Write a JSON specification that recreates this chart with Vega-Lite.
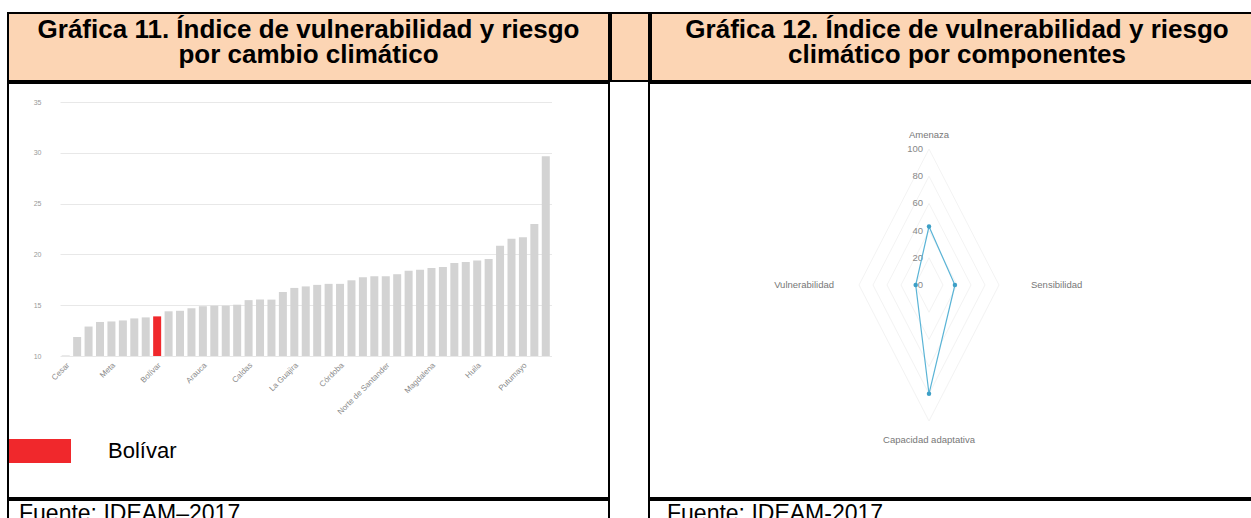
{
  "$schema": "https://vega.github.io/schema/vega-lite/v6.json",
  "padding": {"left": 7, "top": 12, "right": 0, "bottom": 0},
  "background": "white",
  "spacing": 0,
  "config": {
    "view": {"stroke": "black", "strokeWidth": 2},
    "font": "Liberation Sans",
    "concat": {"spacing": 0}
  },
  "datasets": {
    "barras": [
      {"entidad": "Cesar", "indice": 10.05, "grupo": "Otros"},
      {"entidad": "Sucre", "indice": 11.87, "grupo": "Otros"},
      {"entidad": "Atlántico", "indice": 12.9, "grupo": "Otros"},
      {"entidad": "Quindío", "indice": 13.35, "grupo": "Otros"},
      {"entidad": "Meta", "indice": 13.4, "grupo": "Otros"},
      {"entidad": "Risaralda", "indice": 13.5, "grupo": "Otros"},
      {"entidad": "Boyacá", "indice": 13.7, "grupo": "Otros"},
      {"entidad": "Casanare", "indice": 13.8, "grupo": "Otros"},
      {"entidad": "Bolívar", "indice": 13.9, "grupo": "Bolívar"},
      {"entidad": "Santander", "indice": 14.4, "grupo": "Otros"},
      {"entidad": "Tolima", "indice": 14.45, "grupo": "Otros"},
      {"entidad": "Cundinamarca", "indice": 14.7, "grupo": "Otros"},
      {"entidad": "Arauca", "indice": 14.9, "grupo": "Otros"},
      {"entidad": "Antioquia", "indice": 14.95, "grupo": "Otros"},
      {"entidad": "Bogotá D.C.", "indice": 14.95, "grupo": "Otros"},
      {"entidad": "Cauca", "indice": 15.05, "grupo": "Otros"},
      {"entidad": "Caldas", "indice": 15.5, "grupo": "Otros"},
      {"entidad": "Nariño", "indice": 15.55, "grupo": "Otros"},
      {"entidad": "Valle del Cauca", "indice": 15.55, "grupo": "Otros"},
      {"entidad": "Chocó", "indice": 16.3, "grupo": "Otros"},
      {"entidad": "La Guajira", "indice": 16.7, "grupo": "Otros"},
      {"entidad": "Caquetá", "indice": 16.85, "grupo": "Otros"},
      {"entidad": "Guaviare", "indice": 17.0, "grupo": "Otros"},
      {"entidad": "Vichada", "indice": 17.1, "grupo": "Otros"},
      {"entidad": "Córdoba", "indice": 17.1, "grupo": "Otros"},
      {"entidad": "Guainía", "indice": 17.45, "grupo": "Otros"},
      {"entidad": "Vaupés", "indice": 17.75, "grupo": "Otros"},
      {"entidad": "Amazonas", "indice": 17.85, "grupo": "Otros"},
      {"entidad": "Norte de Santander", "indice": 17.85, "grupo": "Otros"},
      {"entidad": "San Andrés", "indice": 18.05, "grupo": "Otros"},
      {"entidad": "Barranquilla", "indice": 18.4, "grupo": "Otros"},
      {"entidad": "Cartagena", "indice": 18.5, "grupo": "Otros"},
      {"entidad": "Magdalena", "indice": 18.65, "grupo": "Otros"},
      {"entidad": "Medellín", "indice": 18.75, "grupo": "Otros"},
      {"entidad": "Cali", "indice": 19.15, "grupo": "Otros"},
      {"entidad": "Bucaramanga", "indice": 19.25, "grupo": "Otros"},
      {"entidad": "Huila", "indice": 19.4, "grupo": "Otros"},
      {"entidad": "Pereira", "indice": 19.55, "grupo": "Otros"},
      {"entidad": "Manizales", "indice": 20.85, "grupo": "Otros"},
      {"entidad": "Ibagué", "indice": 21.55, "grupo": "Otros"},
      {"entidad": "Putumayo", "indice": 21.7, "grupo": "Otros"},
      {"entidad": "Pasto", "indice": 23.0, "grupo": "Otros"},
      {"entidad": "Neiva", "indice": 29.65, "grupo": "Otros"}
    ],
    "componentes": [
      {"componente": "Amenaza", "valor": 43, "orden": 0},
      {"componente": "Sensibilidad", "valor": 37, "orden": 1},
      {"componente": "Capacidad adaptativa", "valor": 80, "orden": 2},
      {"componente": "Vulnerabilidad", "valor": 19, "orden": 3}
    ],
    "escala": [
      {"v": 0}, {"v": 20}, {"v": 40}, {"v": 60}, {"v": 80}, {"v": 100}
    ],
    "rejilla": [
      {"nivel": 20, "orden": 0}, {"nivel": 20, "orden": 1}, {"nivel": 20, "orden": 2}, {"nivel": 20, "orden": 3},
      {"nivel": 40, "orden": 0}, {"nivel": 40, "orden": 1}, {"nivel": 40, "orden": 2}, {"nivel": 40, "orden": 3},
      {"nivel": 60, "orden": 0}, {"nivel": 60, "orden": 1}, {"nivel": 60, "orden": 2}, {"nivel": 60, "orden": 3},
      {"nivel": 80, "orden": 0}, {"nivel": 80, "orden": 1}, {"nivel": 80, "orden": 2}, {"nivel": 80, "orden": 3},
      {"nivel": 100, "orden": 0}, {"nivel": 100, "orden": 1}, {"nivel": 100, "orden": 2}, {"nivel": 100, "orden": 3}
    ]
  },
  "vconcat": [
    {
      "spacing": 0,
      "hconcat": [
        {
          "width": 601, "height": 68,
          "view": {"fill": "#FCD5B4", "stroke": "black", "strokeWidth": 2},
          "data": {"values": [{}]},
          "mark": {"type": "text", "fontWeight": "bold", "fontSize": 26, "lineHeight": 25, "baseline": "alphabetic", "dy": -9, "color": "black"},
          "encoding": {"text": {"value": ["Gráfica 11. Índice de vulnerabilidad y riesgo", "por cambio climático"]}}
        },
        {
          "width": 38, "height": 68,
          "view": {"fill": "#FCD5B4", "stroke": "black", "strokeWidth": 2},
          "data": {"values": [{}]},
          "mark": {"type": "text"},
          "encoding": {"text": {"value": ""}}
        },
        {
          "width": 606, "height": 68,
          "view": {"fill": "#FCD5B4", "stroke": "black", "strokeWidth": 2},
          "data": {"values": [{}]},
          "mark": {"type": "text", "fontWeight": "bold", "fontSize": 26, "lineHeight": 25, "baseline": "alphabetic", "dy": -9, "dx": 3, "color": "black"},
          "encoding": {"text": {"value": ["Gráfica 12. Índice de vulnerabilidad y riesgo", "climático por componentes"]}}
        }
      ]
    },
    {
      "spacing": 0,
      "hconcat": [
        {
          "width": 601, "height": 415,
          "data": {"name": "barras"},
          "mark": {"type": "bar"},
          "encoding": {
            "x": {
              "field": "entidad", "type": "nominal", "sort": null,
              "scale": {"range": [52, 543.5], "paddingInner": 0.3, "paddingOuter": 0.15},
              "axis": {
                "values": ["Cesar", "Meta", "Bolívar", "Arauca", "Caldas", "La Guajira", "Córdoba", "Norte de Santander", "Magdalena", "Huila", "Putumayo"],
                "labelAngle": -45, "offset": -140, "domain": false, "ticks": false, "grid": false,
                "labelFontSize": 8, "labelColor": "#8a8a8a", "labelPadding": 3, "title": null
              }
            },
            "y": {
              "field": "indice", "type": "quantitative",
              "scale": {"domain": [10, 35], "range": [273, 19], "nice": false, "zero": false},
              "axis": {
                "values": [10, 15, 20, 25, 30, 35], "offset": -35, "domain": false, "ticks": false, "tickSize": 0,
                "labelPadding": 2, "labelFontSize": 7, "labelColor": "#999999", "gridColor": "#e8e8e8", "title": null
              }
            },
            "y2": {"datum": 10},
            "color": {
              "field": "grupo", "type": "nominal",
              "scale": {"domain": ["Bolívar", "Otros"], "range": ["#f0282c", "#d3d3d3"]},
              "legend": {
                "values": ["Bolívar"], "orient": "none", "legendX": 1, "legendY": 407, "title": null, "padding": 0,
                "symbolType": "M-1,-0.387H1V0.387H-1Z", "symbolSize": 3844, "symbolStrokeWidth": 0,
                "labelFontSize": 22, "labelColor": "black", "labelOffset": 37, "labelFont": "Liberation Sans"
              }
            }
          }
        },
        {
          "width": 38, "height": 415,
          "data": {"values": [{}]},
          "mark": {"type": "text"},
          "encoding": {"text": {"value": ""}}
        },
        {
          "width": 606, "height": 415,
          "layer": [
            {
              "data": {"name": "rejilla"},
              "transform": [
                {"calculate": "datum.nivel * sin(datum.orden * PI / 2)", "as": "gx"},
                {"calculate": "datum.nivel * cos(datum.orden * PI / 2)", "as": "gy"}
              ],
              "mark": {"type": "line", "interpolate": "linear-closed", "color": "#f3f3f3", "strokeWidth": 1},
              "encoding": {
                "x": {"field": "gx", "type": "quantitative", "scale": {"domain": [-100, 100], "range": [210, 350], "nice": false, "zero": false}, "axis": null},
                "y": {"field": "gy", "type": "quantitative", "scale": {"domain": [-100, 100], "range": [338, 66], "nice": false, "zero": false}, "axis": null},
                "detail": {"field": "nivel", "type": "nominal"},
                "order": {"field": "orden", "type": "quantitative"}
              }
            },
            {
              "data": {"name": "escala"},
              "mark": {"type": "text", "fontSize": 9.5, "color": "#888888", "align": "right", "baseline": "middle", "dx": -6},
              "encoding": {
                "x": {"datum": 0, "type": "quantitative", "axis": null},
                "y": {"field": "v", "type": "quantitative", "axis": null},
                "text": {"field": "v", "type": "quantitative"}
              }
            },
            {
              "data": {"name": "componentes"},
              "transform": [
                {"calculate": "datum.valor * sin(datum.orden * PI / 2)", "as": "px"},
                {"calculate": "datum.valor * cos(datum.orden * PI / 2)", "as": "py"}
              ],
              "mark": {"type": "line", "interpolate": "linear-closed", "color": "#5ab4d6", "strokeWidth": 1.2},
              "encoding": {
                "x": {"field": "px", "type": "quantitative", "axis": null},
                "y": {"field": "py", "type": "quantitative", "axis": null},
                "order": {"field": "orden", "type": "quantitative"}
              }
            },
            {
              "data": {"name": "componentes"},
              "transform": [
                {"calculate": "datum.valor * sin(datum.orden * PI / 2)", "as": "px"},
                {"calculate": "datum.valor * cos(datum.orden * PI / 2)", "as": "py"}
              ],
              "mark": {"type": "point", "filled": true, "color": "#3d9fc6", "size": 20, "opacity": 1},
              "encoding": {
                "x": {"field": "px", "type": "quantitative", "axis": null},
                "y": {"field": "py", "type": "quantitative", "axis": null}
              }
            },
            {
              "data": {"name": "componentes"},
              "transform": [
                {"filter": "datum.orden == 0 || datum.orden == 2"},
                {"calculate": "100 * sin(datum.orden * PI / 2)", "as": "ex"},
                {"calculate": "datum.orden == 0 ? 110 : -114", "as": "ey"}
              ],
              "mark": {"type": "text", "fontSize": 9.5, "color": "#777777", "align": "center", "baseline": "middle"},
              "encoding": {
                "x": {"field": "ex", "type": "quantitative", "axis": null},
                "y": {"field": "ey", "type": "quantitative", "axis": null},
                "text": {"field": "componente"}
              }
            },
            {
              "data": {"name": "componentes"},
              "transform": [
                {"filter": "datum.orden == 1"},
                {"calculate": "100", "as": "ex"},
                {"calculate": "0", "as": "ey"}
              ],
              "mark": {"type": "text", "fontSize": 9.5, "color": "#777777", "align": "left", "baseline": "middle", "dx": 32},
              "encoding": {
                "x": {"field": "ex", "type": "quantitative", "axis": null},
                "y": {"field": "ey", "type": "quantitative", "axis": null},
                "text": {"field": "componente"}
              }
            },
            {
              "data": {"name": "componentes"},
              "transform": [
                {"filter": "datum.orden == 3"},
                {"calculate": "-100", "as": "ex"},
                {"calculate": "0", "as": "ey"}
              ],
              "mark": {"type": "text", "fontSize": 9.5, "color": "#777777", "align": "right", "baseline": "middle", "dx": -25},
              "encoding": {
                "x": {"field": "ex", "type": "quantitative", "axis": null},
                "y": {"field": "ey", "type": "quantitative", "axis": null},
                "text": {"field": "componente"}
              }
            }
          ]
        }
      ]
    },
    {
      "spacing": 0,
      "hconcat": [
        {
          "width": 601, "height": 24,
          "data": {"values": [{}]},
          "mark": {"type": "text", "fontSize": 23, "align": "left", "baseline": "alphabetic", "dy": 9, "color": "black"},
          "encoding": {"x": {"value": 11}, "text": {"value": "Fuente: IDEAM–2017"}}
        },
        {
          "width": 38, "height": 24,
          "data": {"values": [{}]},
          "mark": {"type": "text"},
          "encoding": {"text": {"value": ""}}
        },
        {
          "width": 606, "height": 24,
          "data": {"values": [{}]},
          "mark": {"type": "text", "fontSize": 23, "align": "left", "baseline": "alphabetic", "dy": 9, "color": "black"},
          "encoding": {"x": {"value": 18}, "text": {"value": "Fuente: IDEAM-2017"}}
        }
      ]
    }
  ]
}
